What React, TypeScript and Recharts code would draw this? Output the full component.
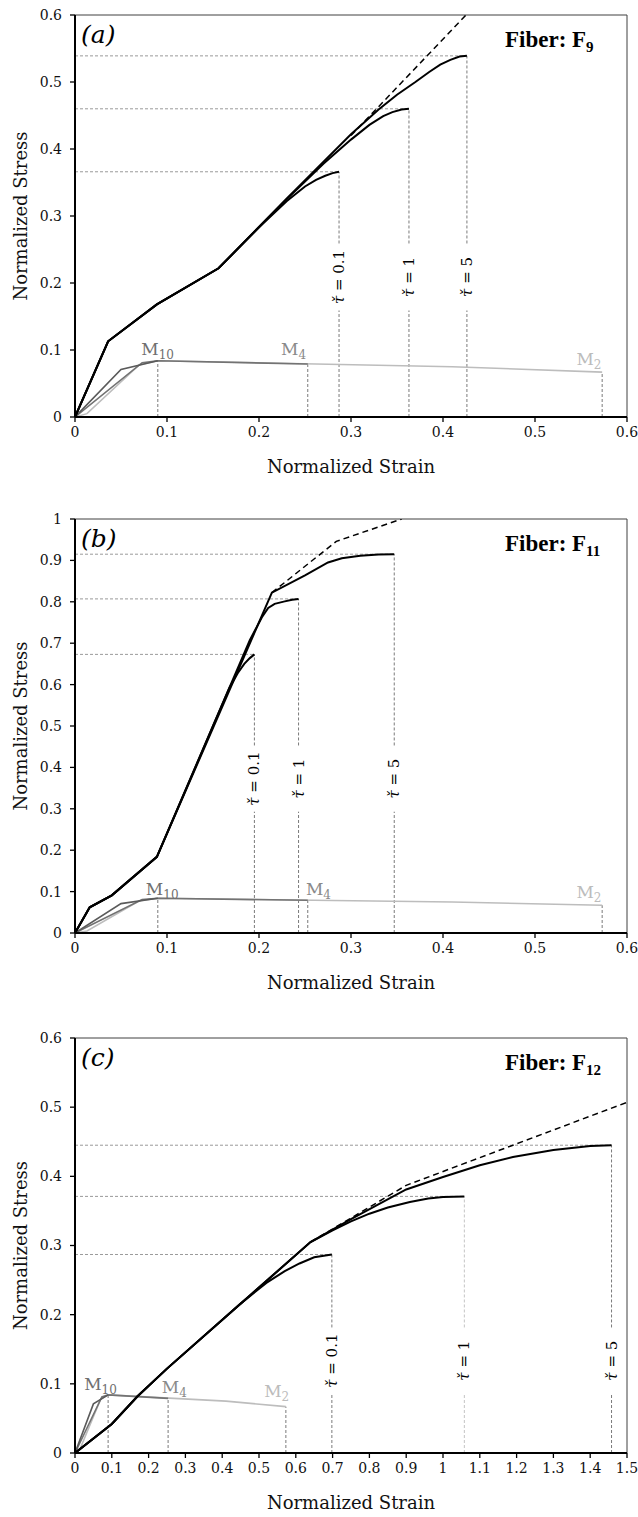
import { LineChart, Line, XAxis, YAxis, ReferenceLine, ReferenceDot, Label } from "recharts";

type Pt = [number, number];

// matrix responses, same in every panel
const m10: Pt[] = [[0, 0], [0.05, 0.071], [0.09, 0.084]];
const m4: Pt[] = [[0, 0], [0.073, 0.081], [0.09, 0.084], [0.253, 0.079]];
const m2: Pt[] = [[0, 0], [0.013, 0.005], [0.07, 0.078], [0.09, 0.084], [0.41, 0.075], [0.573, 0.067]];

// (a) fiber F9
const aTau01: Pt[] = [[0, 0], [0.036, 0.113], [0.089, 0.168], [0.156, 0.222], [0.2, 0.283], [0.23, 0.322], [0.25, 0.344], [0.262, 0.354], [0.272, 0.36], [0.28, 0.364], [0.287, 0.366]];
const aTau1: Pt[] = [[0, 0], [0.036, 0.113], [0.089, 0.168], [0.156, 0.222], [0.23, 0.325], [0.27, 0.378], [0.3, 0.414], [0.32, 0.436], [0.335, 0.449], [0.345, 0.455], [0.355, 0.459], [0.363, 0.46]];
const aTau5: Pt[] = [[0, 0], [0.036, 0.113], [0.089, 0.168], [0.156, 0.222], [0.23, 0.326], [0.3, 0.422], [0.33, 0.459], [0.35, 0.481], [0.37, 0.5], [0.385, 0.515], [0.397, 0.526], [0.408, 0.533], [0.418, 0.538], [0.426, 0.539]];
const aElastic: Pt[] = [[0.3, 0.42], [0.425, 0.6]];

// (b) fiber F11
const bTau01: Pt[] = [[0, 0], [0.016, 0.062], [0.04, 0.091], [0.089, 0.184], [0.15, 0.5], [0.168, 0.593], [0.177, 0.628], [0.184, 0.65], [0.19, 0.664], [0.195, 0.673]];
const bTau1: Pt[] = [[0, 0], [0.016, 0.062], [0.04, 0.091], [0.089, 0.184], [0.19, 0.707], [0.203, 0.762], [0.21, 0.785], [0.217, 0.795], [0.228, 0.801], [0.236, 0.805], [0.243, 0.807]];
const bTau5: Pt[] = [[0, 0], [0.016, 0.062], [0.04, 0.091], [0.089, 0.184], [0.214, 0.822], [0.25, 0.864], [0.275, 0.895], [0.29, 0.905], [0.31, 0.911], [0.33, 0.914], [0.347, 0.915]];
const bElastic: Pt[] = [[0.214, 0.822], [0.284, 0.946], [0.355, 1.0]];

// (c) fiber F12
const cTau01: Pt[] = [[0, 0], [0.1, 0.042], [0.17, 0.082], [0.25, 0.122], [0.45, 0.216], [0.52, 0.246], [0.57, 0.263], [0.61, 0.274], [0.65, 0.283], [0.698, 0.287]];
const cTau1: Pt[] = [[0, 0], [0.1, 0.042], [0.17, 0.082], [0.25, 0.122], [0.64, 0.305], [0.7, 0.322], [0.75, 0.335], [0.8, 0.346], [0.85, 0.355], [0.91, 0.363], [0.96, 0.368], [1.0, 0.37], [1.058, 0.371]];
const cTau5: Pt[] = [[0, 0], [0.1, 0.042], [0.17, 0.082], [0.25, 0.122], [0.64, 0.305], [0.75, 0.338], [0.9, 0.381], [1.0, 0.399], [1.1, 0.416], [1.19, 0.428], [1.3, 0.438], [1.4, 0.444], [1.458, 0.445]];
const cElastic: Pt[] = [[0.64, 0.305], [0.9, 0.387], [1.5, 0.507]];

const ticks06 = [0, 0.1, 0.2, 0.3, 0.4, 0.5, 0.6];
const ticks10 = [0, 0.1, 0.2, 0.3, 0.4, 0.5, 0.6, 0.7, 0.8, 0.9, 1];
const ticks15 = [0, 0.1, 0.2, 0.3, 0.4, 0.5, 0.6, 0.7, 0.8, 0.9, 1, 1.1, 1.2, 1.3, 1.4, 1.5];

const FONT = "'DejaVu Serif', serif";
const toRows = (pts: Pt[]) => pts.map(([x, y]) => ({ x, y }));
const fmt = (v: number) => String(Math.round(v * 10) / 10);

const panels = [
  {
    top: 0, height: 490, mt: 15, mb: 13, xMax: 0.6, yMax: 0.6, xTicks: ticks06, yTicks: ticks06,
    tag: "(a)", sub: "9", elastic: aElastic, tauY: 0.209, gap: 0.05,
    taus: [{ t: "0.1", pts: aTau01 }, { t: "1", pts: aTau1 }, { t: "5", pts: aTau5 }],
    notes: [{ s: "10", x: 0.072, y: 0.0925 }, { s: "4", x: 0.224, y: 0.0925 }, { s: "2", x: 0.545, y: 0.0776 }],
  },
  {
    top: 500, height: 506, mt: 19, mb: 13, xMax: 0.6, yMax: 1, xTicks: ticks06, yTicks: ticks10,
    tag: "(b)", sub: "11", elastic: bElastic, tauY: 0.373, gap: 0.08,
    taus: [{ t: "0.1", pts: bTau01 }, { t: "1", pts: bTau1 }, { t: "5", pts: bTau5 }],
    notes: [{ s: "10", x: 0.077, y: 0.0926 }, { s: "4", x: 0.251, y: 0.0926 }, { s: "2", x: 0.545, y: 0.0853 }],
  },
  {
    top: 1020, height: 497, mt: 18, mb: 4, xMax: 1.5, yMax: 0.6, xTicks: ticks15, yTicks: ticks06,
    tag: "(c)", sub: "12", elastic: cElastic, tauY: 0.1335, gap: 0.048,
    taus: [{ t: "0.1", pts: cTau01 }, { t: "1", pts: cTau1, light: true }, { t: "5", pts: cTau5 }],
    notes: [{ s: "10", x: 0.025, y: 0.0915 }, { s: "4", x: 0.236, y: 0.0872 }, { s: "2", x: 0.514, y: 0.0815 }],
  },
];

const mSeries = [
  { pts: m2, color: "#bdbdbd" },
  { pts: m4, color: "#737373" },
  { pts: m10, color: "#5a5a5a" },
];
const noteColors = ["#707070", "#8a8a8a", "#bcbcbc"];

function Panel({ p }: { p: (typeof panels)[number] }) {
  return (
    <div style={{ position: "absolute", left: 0, top: p.top }}>
      <LineChart width={638} height={p.height} margin={{ top: p.mt, right: 11, left: 0, bottom: p.mb }}>
        <XAxis
          type="number" dataKey="x" domain={[0, p.xMax]} ticks={p.xTicks} interval={0} allowDataOverflow
          tickFormatter={fmt} tick={{ fontSize: 14, fill: "#111", fontFamily: FONT }}
          tickSize={5} tickMargin={5} height={60}
          axisLine={{ stroke: "#000", strokeWidth: 2 }} tickLine={{ stroke: "#000", strokeWidth: 1.3 }}
        >
          <Label value="Normalized Strain" position="insideBottom" offset={4} style={{ fontSize: 18, fill: "#111", fontFamily: FONT }} />
        </XAxis>
        <YAxis
          type="number" domain={[0, p.yMax]} ticks={p.yTicks} interval={0} allowDataOverflow width={75}
          tickFormatter={fmt} tick={{ fontSize: 14, fill: "#111", fontFamily: FONT }}
          tickSize={5} tickMargin={8}
          axisLine={{ stroke: "#000", strokeWidth: 2 }} tickLine={{ stroke: "#000", strokeWidth: 1.3 }}
        >
          <Label
            content={(lp: any) => {
              const vb = lp.viewBox || {};
              const cy = vb.y + vb.height / 2;
              return (
                <text transform={`translate(20,${cy}) rotate(-90)`} textAnchor="middle" dominantBaseline="central"
                  style={{ fontSize: 18, fill: "#111", fontFamily: FONT }}>
                  Normalized Stress
                </text>
              );
            }}
          />
        </YAxis>

        <ReferenceLine y={p.yMax} stroke="#404040" strokeWidth={1} />
        <ReferenceLine x={p.xMax} stroke="#404040" strokeWidth={1} />

        {/* guides at failure points */}
        {p.taus.map((s, i) => {
          const [ex, ey] = s.pts[s.pts.length - 1];
          const vcol = s.light ? "#c4c4c4" : "#7a7a7a";
          return [
            <ReferenceLine key={`h${i}`} segment={[{ x: 0, y: ey }, { x: ex, y: ey }]} stroke="#9a9a9a" strokeWidth={1} strokeDasharray="3 2" />,
            <ReferenceLine key={`v${i}`} segment={[{ x: ex, y: 0 }, { x: ex, y: p.tauY - p.gap }]} stroke={vcol} strokeWidth={1} strokeDasharray="3 2" />,
            <ReferenceLine key={`w${i}`} segment={[{ x: ex, y: p.tauY + p.gap }, { x: ex, y: ey }]} stroke={vcol} strokeWidth={1} strokeDasharray="3 2" />,
          ];
        })}
        {mSeries.map((m, i) => {
          const [ex, ey] = m.pts[m.pts.length - 1];
          return <ReferenceLine key={`mv${i}`} segment={[{ x: ex, y: 0 }, { x: ex, y: ey }]} stroke="#7a7a7a" strokeWidth={1} strokeDasharray="3 2" />;
        })}

        {mSeries.map((m, i) => (
          <Line key={`m${i}`} data={toRows(m.pts)} dataKey="y" type="linear" stroke={m.color} strokeWidth={1.6}
            dot={false} activeDot={false} isAnimationActive={false} />
        ))}
        {p.taus.map((s, i) => (
          <Line key={`t${i}`} data={toRows(s.pts)} dataKey="y" type="linear" stroke="#000" strokeWidth={2}
            dot={false} activeDot={false} isAnimationActive={false} />
        ))}
        <Line data={toRows(p.elastic)} dataKey="y" type="linear" stroke="#000" strokeWidth={1.5} strokeDasharray="6 4"
          dot={false} activeDot={false} isAnimationActive={false} />

        {p.taus.map((s, i) => {
          const ex = s.pts[s.pts.length - 1][0];
          return (
            <ReferenceDot key={`tl${i}`} x={ex} y={p.tauY} r={0} ifOverflow="visible"
              shape={(sp: any) => (
                <text transform={`translate(${sp.cx},${sp.cy}) rotate(-90)`} textAnchor="middle" dominantBaseline="central"
                  style={{ fontSize: 15, fill: "#000", fontFamily: FONT }}>
                  <tspan fontStyle="italic">τ̌</tspan> = {s.t}
                </text>
              )}
            />
          );
        })}
        {p.notes.map((n, i) => (
          <ReferenceDot key={`n${i}`} x={n.x} y={n.y} r={0} ifOverflow="visible"
            shape={(sp: any) => (
              <text x={sp.cx} y={sp.cy} style={{ fontSize: 17, fill: noteColors[i], fontFamily: FONT }}>
                M<tspan dy={4} fontSize={12}>{n.s}</tspan>
              </text>
            )}
          />
        ))}
        <ReferenceDot x={0} y={p.yMax} r={0} ifOverflow="visible"
          shape={(sp: any) => (
            <text x={sp.cx + 6} y={sp.cy + 28} style={{ fontSize: 25, fill: "#000", fontFamily: FONT, fontStyle: "italic" }}>
              {p.tag}
            </text>
          )}
        />
        <ReferenceDot x={p.xMax} y={p.yMax} r={0} ifOverflow="visible"
          shape={(sp: any) => (
            <text x={sp.cx - 122} y={sp.cy + 32}
              style={{ fontSize: 23, fill: "#000", fontFamily: "'Liberation Serif', serif", fontWeight: 700 }}>
              Fiber: F<tspan dy={5} fontSize={15}>{p.sub}</tspan>
            </text>
          )}
        />
      </LineChart>
    </div>
  );
}

export default function App() {
  return (
    <div style={{ position: "absolute", left: 0, top: 0, width: 638, height: 1517, background: "#fff", fontFamily: FONT }}>
      {panels.map((p) => (
        <Panel key={p.tag} p={p} />
      ))}
    </div>
  );
}
